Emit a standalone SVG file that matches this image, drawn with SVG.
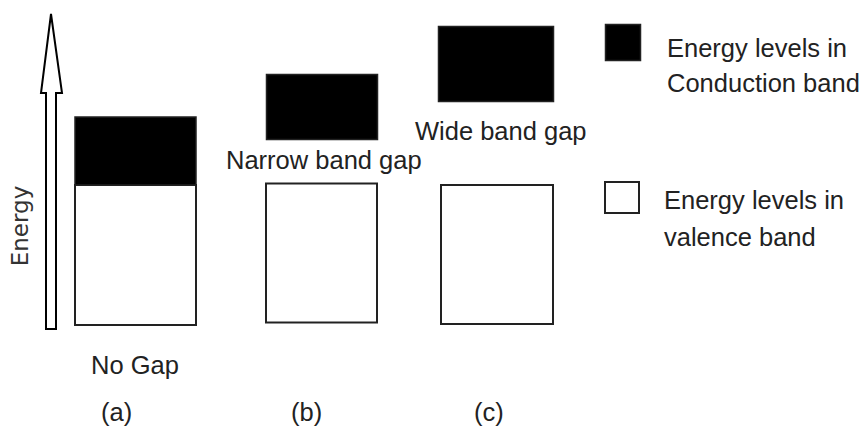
<svg xmlns="http://www.w3.org/2000/svg" width="865" height="433" viewBox="0 0 865 433">
  <style>
    .lbl { font-family: "Liberation Sans", Arial, sans-serif; font-size: 25.5px; fill: #222; }
    .axis { font-family: "DejaVu Sans", sans-serif; font-size: 23px; fill: #333; }
    .cb { fill: #000; stroke: #222; stroke-width: 1.5; }
    .vb { fill: #fff; stroke: #222; stroke-width: 2; }
  </style>
  <rect width="865" height="433" fill="#fff"/>

  <!-- energy axis -->
  <g id="energy-axis">
    <polygon points="46,329 56,329 56,93 62,93 51,14 41,93 46,93" fill="#fff" stroke="#000" stroke-width="2" stroke-linejoin="miter"/>
    <text class="axis" text-anchor="middle" transform="translate(28,226) rotate(-90)">Energy</text>
  </g>

  <!-- (a) metal: no gap -->
  <g id="band-a">
    <rect class="vb" x="75" y="185" width="121" height="140"/>
    <rect class="cb" x="75" y="117" width="121" height="68"/>
    <text class="lbl" x="91" y="374">No Gap</text>
    <text class="lbl" x="101" y="421">(a)</text>
  </g>

  <!-- (b) semiconductor: narrow gap -->
  <g id="band-b">
    <rect class="cb" x="266.5" y="74.5" width="111" height="65"/>
    <rect class="vb" x="266" y="183.5" width="111" height="139"/>
    <text class="lbl" x="226" y="169">Narrow band gap</text>
    <text class="lbl" x="291" y="421">(b)</text>
  </g>

  <!-- (c) insulator: wide gap -->
  <g id="band-c">
    <rect class="cb" x="438.5" y="26.5" width="115" height="75"/>
    <rect class="vb" x="441" y="185" width="112" height="139"/>
    <text class="lbl" x="415" y="140">Wide band gap</text>
    <text class="lbl" x="474" y="421">(c)</text>
  </g>

  <!-- legend -->
  <g id="legend-conduction">
    <rect class="cb" x="605.5" y="24.5" width="35" height="36"/>
    <text class="lbl" x="667" y="57">Energy levels in</text>
    <text class="lbl" x="667" y="92">Conduction band</text>
  </g>
  <g id="legend-valence">
    <rect class="vb" x="605" y="182" width="34" height="31"/>
    <text class="lbl" x="664" y="209">Energy levels in</text>
    <text class="lbl" x="664" y="246">valence band</text>
  </g>
</svg>
